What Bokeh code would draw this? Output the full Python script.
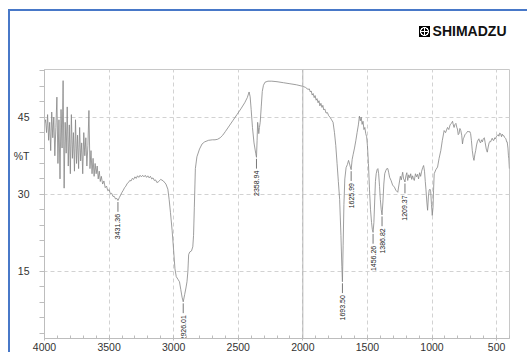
import math
from bokeh.plotting import figure
from bokeh.models import Range1d, Span, FixedTicker, ColumnDataSource, Title
from bokeh.core.properties import value
from bokeh.embed import file_html
from bokeh.resources import INLINE

# ---- data ----
wavenumber = [
    4000, 3992, 3984, 3976, 3968, 3960, 3952, 3944, 3936, 3928, 3920, 3912, 3904, 3896,
    3888, 3880, 3872, 3864, 3856, 3848, 3840, 3832, 3824, 3816, 3808, 3800, 3792, 3784,
    3776, 3768, 3760, 3752, 3744, 3736, 3728, 3720, 3712, 3704, 3696, 3688, 3680, 3672,
    3664, 3656, 3648, 3640, 3632, 3624, 3616, 3608, 3600, 3592, 3584, 3576, 3568, 3560,
    3550, 3540, 3530, 3520, 3510, 3500, 3490, 3480, 3470, 3460, 3450, 3440, 3431.36,
    3420, 3410, 3400, 3390, 3380, 3370, 3360, 3350, 3340, 3330, 3320, 3310, 3300, 3290,
    3280, 3270, 3260, 3250, 3240, 3230, 3220, 3210, 3200, 3190, 3180, 3170, 3160, 3150,
    3140, 3130, 3120, 3100, 3080, 3060, 3045, 3035, 3025, 3012, 3000, 2990, 2980, 2965,
    2955, 2945, 2935, 2926.01, 2915, 2905, 2897, 2890, 2884, 2875, 2862, 2852, 2846, 2840,
    2832, 2820, 2800, 2780, 2760, 2730, 2700, 2680, 2660, 2640, 2620, 2600, 2570, 2540,
    2510, 2480, 2450, 2430, 2416, 2408, 2400, 2390, 2378, 2365, 2358.94, 2354, 2350, 2345,
    2341, 2336, 2330, 2322, 2314, 2305, 2293, 2270, 2240, 2200, 2150, 2100, 2050, 2000,
    1980, 1960, 1950, 1942, 1935, 1928, 1920, 1912, 1905, 1897, 1890, 1882, 1875, 1868,
    1860, 1852, 1845, 1838, 1830, 1820, 1810, 1800, 1790, 1780, 1766, 1755, 1745, 1735,
    1725, 1715, 1705, 1698, 1693.50, 1688, 1682, 1675, 1665, 1655, 1646, 1638, 1632,
    1625.99, 1618, 1610, 1600, 1590, 1580, 1570, 1562, 1555, 1548, 1541, 1534, 1527, 1520,
    1513, 1506, 1500, 1492, 1484, 1476, 1468, 1462, 1456.26, 1450, 1444, 1438, 1432, 1425,
    1419, 1413, 1406, 1400, 1393, 1386.82, 1380, 1373, 1366, 1358, 1350, 1342, 1335, 1328,
    1317, 1305, 1291, 1280, 1265, 1255, 1245, 1238, 1227, 1220, 1215, 1209.37, 1202, 1195,
    1188, 1180, 1172, 1165, 1157, 1150, 1143, 1137, 1128, 1120, 1112, 1104, 1096, 1088,
    1080, 1072, 1065, 1058, 1052, 1047, 1040, 1034, 1028, 1022, 1016, 1010, 1004, 998,
    992, 988, 983, 970, 957, 945, 932, 920, 906, 895, 880, 870, 860, 850, 841, 835, 829,
    822, 815, 808, 803, 797, 791, 784, 777, 770, 764, 758, 752, 745, 739, 730, 722, 714,
    707, 701, 695, 688, 681, 675, 668, 662, 655, 648, 642, 637, 630, 624, 617, 610, 603,
    595, 588, 580, 572, 565, 558, 552, 546, 540, 534, 527, 521, 514, 508, 502, 495, 488,
    482, 476, 469, 462, 456, 450, 444, 436, 428, 422, 418, 412, 408, 405, 401,
]
transmittance = [
    43.8, 44.5, 42.0, 45.5, 40.5, 44.0, 38.5, 46.0, 41.0, 45.0, 37.5, 43.0, 48.9, 36.0,
    44.5, 33.0, 46.5, 39.0, 52.1, 31.2, 44.0, 38.0, 47.0, 35.5, 43.5, 34.0, 45.5, 37.0,
    42.0, 34.5, 44.5, 36.0, 41.5, 35.0, 43.0, 36.5, 40.0, 34.0, 42.0, 37.5, 41.0, 35.5,
    39.5, 46.3, 35.0, 38.5, 34.0, 37.0, 33.5, 36.0, 34.0, 35.5, 33.0, 34.5, 32.5, 33.5,
    32.0, 32.6, 31.3, 31.6, 30.7, 30.9, 30.1, 30.2, 29.6, 29.6, 29.1, 29.2, 28.8,
    29.4, 29.9, 30.4, 30.8, 31.3, 31.6, 32.1, 32.3, 32.7, 32.6, 33.1, 32.9, 33.4, 33.1,
    33.6, 33.3, 33.7, 33.4, 33.7, 33.4, 33.7, 33.3, 33.6, 33.2, 33.5, 33.0, 33.2, 32.7,
    32.8, 32.3, 32.4, 32.9, 32.6, 32.0, 31.0, 29.0, 26.5, 23.0, 19.0, 15.5, 14.0, 13.4,
    13.0, 11.5, 10.0, 9.1, 10.5, 11.8, 13.0, 15.0, 18.3, 18.8, 19.0, 19.8, 22.0, 27.5,
    35.0, 37.3, 38.8, 39.8, 40.2, 40.5, 40.6, 40.6, 40.7, 41.0, 41.5, 42.2, 43.3, 44.4,
    45.5, 46.6, 47.8, 48.8, 49.9, 49.0, 46.5, 43.0, 40.0, 38.0, 37.2, 40.5, 44.0, 43.0,
    41.8, 43.0, 44.0, 47.0, 50.0, 51.2, 51.8, 52.0, 52.0, 51.9, 51.7, 51.5, 51.3, 51.0,
    50.8, 50.4, 50.5, 49.9, 50.1, 49.3, 49.6, 48.8, 49.2, 48.3, 48.6, 47.8, 48.2, 47.2,
    47.7, 46.9, 47.3, 46.4, 46.6, 45.8, 45.9, 45.3, 45.0, 44.6, 44.0, 42.0, 39.5, 36.0,
    32.5, 29.0, 22.0, 16.0, 13.0, 20.0, 28.0, 33.0, 35.2, 35.8, 36.6, 35.9, 35.3,
    34.8, 36.8, 37.8, 39.0, 40.4, 42.0, 43.5, 45.2, 44.3, 45.0, 43.6, 44.2, 42.6, 43.0,
    41.8, 41.2, 39.5, 36.0, 31.0, 27.0, 24.5, 23.2, 22.6, 24.5, 28.5, 32.5, 34.0, 34.8,
    35.0, 34.0, 31.5, 29.0, 27.0, 26.0, 28.5, 32.0, 34.0, 34.6, 35.0, 35.0, 34.2, 33.3,
    32.7, 31.8, 31.4, 30.8, 30.4, 32.0, 33.5, 32.8, 34.3, 33.0, 32.8, 32.4, 33.6, 34.2,
    32.7, 33.8, 33.2, 34.0, 32.9, 33.6, 33.0, 32.7, 34.0, 33.4, 33.9, 33.0, 34.2, 33.5,
    34.5, 35.2, 35.6, 34.5, 32.5, 31.0, 28.5, 26.9, 29.5, 30.8, 31.0, 30.5, 28.0, 25.9,
    27.5, 30.8, 34.0, 34.8, 35.3, 37.0, 38.5, 40.5, 42.4, 42.0, 43.0, 42.6, 43.5, 43.8, 44.2, 43.5, 43.0,
    43.6, 43.8, 43.0, 42.7, 41.6, 41.8, 42.8, 42.4, 41.5, 39.8, 40.8, 41.1, 41.6, 41.8, 42.0, 42.3, 42.1,
    42.2, 41.8, 40.5, 38.5, 37.2, 36.6, 37.8, 38.5, 39.6, 40.3, 40.6, 40.8, 40.2, 40.0, 40.6, 40.2, 40.8,
    41.0, 40.0, 38.8, 38.2, 39.2, 40.0, 40.3, 40.2, 40.6, 40.9, 40.5, 40.5, 41.0, 40.8, 41.2, 41.4, 41.6,
    41.3, 41.9, 41.8, 41.2, 41.7, 41.4, 41.4, 41.0, 40.8, 40.2, 40.2, 39.0, 37.5, 36.9, 35.0,
]

peak_wavenumbers = [3431.36, 2926.01, 2358.94, 1693.50, 1625.99, 1456.26, 1386.82, 1209.37]
peak_labels = ["3431.36", "2926.01", "2358.94", "1693.50", "1625.99", "1456.26", "1386.82", "1209.37"]

x_major_ticks = [4000, 3500, 3000, 2500, 2000, 1500, 1000, 500]
x_minor_ticks = list(range(4000, 399, -100))
y_major_ticks = [15, 30, 45]
y_minor_ticks = list(range(3, 55, 3))
y_axis_title = "%T"
y_axis_title_pos = 37.45
logo_text = "SHIMADZU"

# ---- derived ----
lookup = dict(zip(wavenumber, transmittance))
peak_t = [lookup[w] for w in peak_wavenumbers]
LEAD = 2.2  # leader length in %T units
spec = ColumnDataSource(dict(x=wavenumber, y=transmittance))
peaks = ColumnDataSource(dict(
    x=peak_wavenumbers, y0=[t - 0.3 for t in peak_t], y1=[t - LEAD for t in peak_t],
    ty=[t - LEAD - 0.4 for t in peak_t], label=peak_labels))

X_START, X_END = 4000, 400
Y_START, Y_END = 1.97, 54.27
GRAY_AXIS = "#bdbdbd"
FONT_AX = "Liberation Sans Narrow, Liberation Sans, sans-serif"
BLUE = "#4878c8"

# logo badge (black square with white circle-cross) painted as a CSS background
BADGE_X, BADGE_Y, BADGE = 409, 15, 11
badge_css = ", ".join([
    f"linear-gradient(#fff,#fff) {BADGE_X + 5}px {BADGE_Y + 2}px / 1px 7px no-repeat",
    f"linear-gradient(#fff,#fff) {BADGE_X + 2}px {BADGE_Y + 5}px / 7px 1px no-repeat",
    f"radial-gradient(circle, #000 3.1px, #fff 3.4px, #fff 4.3px, #000 4.6px) "
    f"{BADGE_X}px {BADGE_Y}px / {BADGE}px {BADGE}px no-repeat",
    "#fff",
])

p = figure(width=519, height=343, output_backend="svg", toolbar_location=None,
           x_range=Range1d(X_START, X_END), y_range=Range1d(Y_START, Y_END),
           min_border_left=32, min_border_top=58, min_border_right=20, min_border_bottom=16)
p.styles = {"margin-left": "8px", "margin-top": "9px",
            "border-top": f"2px solid {BLUE}", "border-left": f"2px solid {BLUE}",
            "background": badge_css}
p.background_fill_color = "white"
p.border_fill_color = None
p.outline_line_color = "#c8c8c8"
p.outline_line_width = 1

# grid
p.xgrid.ticker = FixedTicker(ticks=x_major_ticks)
p.ygrid.ticker = FixedTicker(ticks=y_major_ticks)
for g in (p.xgrid, p.ygrid):
    g.grid_line_color = "#d2d2d2"
    g.grid_line_dash = "4 3"
    g.grid_line_width = 1
p.add_layout(Span(location=2000, dimension="height", line_color="#b5b5b5", line_width=1))

# axes
p.xaxis.ticker = FixedTicker(ticks=x_major_ticks, minor_ticks=x_minor_ticks)
p.yaxis.ticker = FixedTicker(ticks=y_major_ticks + [y_axis_title_pos], minor_ticks=y_minor_ticks)
p.yaxis.major_label_overrides = {y_axis_title_pos: y_axis_title}
for ax in (p.xaxis, p.yaxis):
    ax.axis_line_color = GRAY_AXIS
    ax.major_tick_line_color = GRAY_AXIS
    ax.minor_tick_line_color = GRAY_AXIS
    ax.major_label_text_color = "#333333"
    ax.major_label_text_font = FONT_AX
    ax.major_label_text_font_size = "10.5px"
p.xaxis.major_tick_in = 0
p.xaxis.major_tick_out = 2
p.xaxis.minor_tick_in = 3
p.xaxis.minor_tick_out = 0
p.xaxis.major_label_standoff = 2
p.yaxis.major_tick_in = 0
p.yaxis.major_tick_out = 0
p.yaxis.minor_tick_in = 0
p.yaxis.minor_tick_out = 5
p.yaxis.major_label_standoff = 10

# spectrum
p.line("x", "y", source=spec, line_color="#858585", line_width=0.8)

# peak annotations
p.segment(x0="x", y0="y0", x1="x", y1="y1", source=peaks, line_color="#555555", line_width=0.8)
p.text(x="x", y="ty", text="label", source=peaks, angle=math.pi / 2,
       text_align="right", text_baseline="middle", text_font_size="7px",
       text_font=value("Liberation Sans"), text_color="#222222")

# spacer row directly above the frame, then the Shimadzu logo title above it
p.add_layout(Title(text=" ", text_font_size="1px", standoff=26), "above")
p.add_layout(Title(text=logo_text, align="right", offset=3, standoff=4,
                   text_font="Liberation Sans", text_font_size="14px",
                   text_font_style="bold", text_color="#111111"), "above")

open("out.html", "w").write(file_html(p, INLINE))
